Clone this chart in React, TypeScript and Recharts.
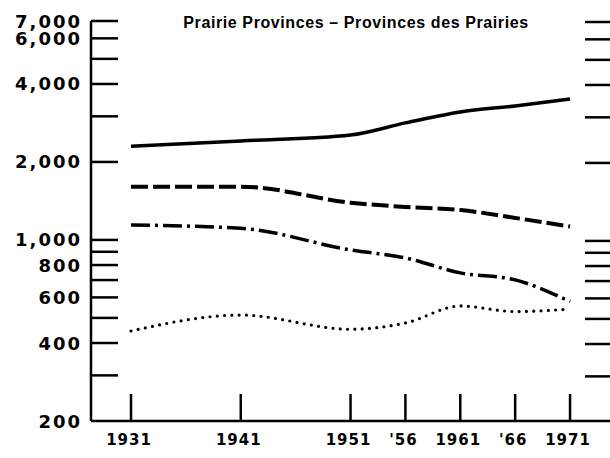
import { LineChart, Line, XAxis, YAxis } from 'recharts';

// census years and readings
const years = [1931, 1941, 1951, 1956, 1961, 1966, 1971];
const yearLabels = ['1931', '1941', '1951', "'56", '1961', "'66", '1971'];
const solidSeries = [2300, 2410, 2540, 2830, 3120, 3290, 3500];
const dashedSeries = [1606, 1606, 1393, 1340, 1305, 1216, 1126];
const dashDotSeries = [1142, 1109, 915, 852, 746, 701, 578];
const dottedSeries = [445, 513, 452, 478, 556, 529, 541];

const yTicks = [200, 300, 400, 500, 600, 700, 800, 900, 1000, 2000, 3000, 4000, 5000, 6000, 7000];
const yLabelled = [200, 400, 600, 800, 1000, 2000, 4000, 6000, 7000];

const title = 'Prairie Provinces – Provinces des Prairies';

const chartData = years.map((year, i) => ({
  year,
  solid: solidSeries[i],
  dashed: dashedSeries[i],
  dashDot: dashDotSeries[i],
  dotted: dottedSeries[i],
}));

const W = 610;
const H = 458;
const ink = '#000';
const labelFont = '"DejaVu Sans", sans-serif';

// left axis tick: inward tick, label, plus the matching tick on the right frame edge
const LeftTick = (props: any) => {
  const { x, y, payload } = props;
  const v = payload.value as number;
  const showLabel = yLabelled.includes(v);
  return (
    <g>
      {v !== 200 && <line x1={x} x2={x + 27} y1={y} y2={y} stroke={ink} strokeWidth={2.5} />}
      {v !== 200 && <line x1={W - 25} x2={W} y1={y + 1} y2={y + 1} stroke={ink} strokeWidth={2.5} />}
      {showLabel && (
        <text
          x={x - 9}
          y={y}
          textAnchor="end"
          dominantBaseline="central"
          fontFamily={labelFont}
          fontWeight="bold"
          fontSize={18}
          letterSpacing={2}
          fill={ink}
        >
          {v.toLocaleString('en-US')}
        </text>
      )}
    </g>
  );
};

const YearTick = (props: any) => {
  const { x, y, index } = props;
  return (
    <g>
      <line x1={x} x2={x} y1={y} y2={y - 27} stroke={ink} strokeWidth={2.5} />
      <text
        x={x - 2}
        y={y + 19}
        textAnchor="middle"
        dominantBaseline="central"
        fontFamily={labelFont}
        fontWeight="bold"
        fontSize={15}
        letterSpacing={1}
        fill={ink}
      >
        {yearLabels[index]}
      </text>
    </g>
  );
};

export default function App() {
  return (
    <div style={{ position: 'absolute', left: 0, top: 0, width: W, height: H, background: '#fff' }}>
      <LineChart width={W} height={H} data={chartData} margin={{ top: 21, right: 0, bottom: 0, left: 0 }}>
        <XAxis
          dataKey="year"
          type="number"
          domain={[1927.355, 1974.64]}
          allowDataOverflow
          ticks={years}
          interval={0}
          height={37}
          tickSize={0}
          tickMargin={0}
          tickLine={false}
          axisLine={{ stroke: ink, strokeWidth: 2.5 }}
          tick={YearTick}
        />
        <YAxis
          scale="log"
          domain={[200, 7000]}
          allowDataOverflow
          ticks={yTicks}
          interval={0}
          width={91}
          tickSize={0}
          tickMargin={0}
          tickLine={false}
          axisLine={{ stroke: ink, strokeWidth: 2.5 }}
          tick={LeftTick}
        />
        <text
          x={356}
          y={22}
          textAnchor="middle"
          dominantBaseline="central"
          fontFamily='"Liberation Sans", Arial, sans-serif'
          fontWeight="bold"
          fontSize={16}
          letterSpacing={0.6}
          fill={ink}
        >
          {title}
        </text>
        <Line dataKey="solid" type="monotone" stroke={ink} strokeWidth={3.5} dot={false} isAnimationActive={false} />
        <Line
          dataKey="dashed"
          type="monotone"
          stroke={ink}
          strokeWidth={4}
          strokeDasharray="17 5"
          dot={false}
          isAnimationActive={false}
        />
        <Line
          dataKey="dashDot"
          type="monotone"
          stroke={ink}
          strokeWidth={3.5}
          strokeDasharray="19 5 3 5"
          dot={false}
          isAnimationActive={false}
        />
        <Line
          dataKey="dotted"
          type="monotone"
          stroke={ink}
          strokeWidth={3.2}
          strokeLinecap="round"
          strokeDasharray="0 7.3"
          dot={false}
          isAnimationActive={false}
        />
      </LineChart>
    </div>
  );
}
